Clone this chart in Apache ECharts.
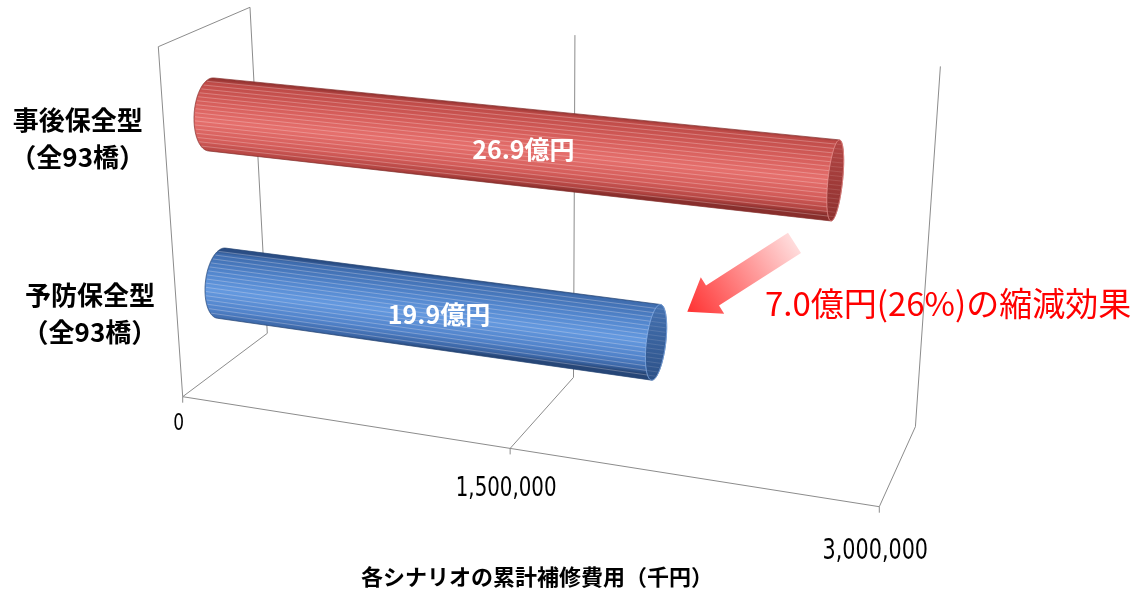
<!DOCTYPE html>
<html><head><meta charset="utf-8">
<script src="https://cdn.jsdelivr.net/npm/echarts@6/dist/echarts.min.js"></script>
<style>html,body{margin:0;padding:0;background:#fff}#c{width:1139px;height:589px}</style>
</head><body><div id="c"></div>
<script>
// ---------------- data ----------------
const categories = ['予防保全型\n（全93橋）', '事後保全型\n（全93橋）'];
const costValues = [1990000, 2690000];           // 千円
const tickValues = [0, 1500000, 3000000];
const tickLabels = ['0', '1,500,000', '3,000,000'];
const axisTitle = '各シナリオの累計補修費用（千円）';
const OKU = 100000;                               // 千円 per 億円

// ---------------- 3D perspective box (layout) ----------------
const P0 = [182.7, 396.7], PU = [879.3, 506.7], PV = [158.3, 46.7], PW = [267.3, 333.3];
const WU = 0.887, WV = 0.9379, WW = 1.0811;
function proj(u, v, w) {
  const d = 1 + u * (WU - 1) + v * (WV - 1) + w * (WW - 1);
  const x = P0[0] + u * (WU * PU[0] - P0[0]) + v * (WV * PV[0] - P0[0]) + w * (WW * PW[0] - P0[0]);
  const y = P0[1] + u * (WU * PU[1] - P0[1]) + v * (WV * PV[1] - P0[1]) + w * (WW * PW[1] - P0[1]);
  return [x / d, y / d];
}
function toU(cs, pt) { return (pt[0] - cs.x) / cs.width; }
function toV(cs, pt) { return (cs.y + cs.height - pt[1]) / cs.height; }

const GRID_COLOR = '#8c8c8c';
const BAR_RATIO = 0.408;   // diameter / band (vertical)
const RW = 0.19, WC = 0.5; // depth radius / centre

const BAR_STYLE = [
  { body: [[0,'#2a4d84'],[0.05,'#3e6cae'],[0.3,'#5286cd'],[0.55,'#6499df'],[0.8,'#5183ca'],[0.94,'#3b66a6'],[1,'#264677']],
    cap: ['#4471b0','#2d5289'], rim: 'rgba(140,180,235,0.8)', edge: '#244373' },
  { body: [[0,'#983533'],[0.05,'#bf4b48'],[0.3,'#d65e5b'],[0.55,'#e5706d'],[0.8,'#d35c59'],[0.94,'#b24441'],[1,'#882e2c']],
    cap: ['#b34644','#8e312f'], rim: 'rgba(235,150,148,0.8)', edge: '#85302e' }
];

function hull(pts) {
  const p = pts.slice().sort((a, b) => a[0] - b[0] || a[1] - b[1]);
  const cr = (o, a, b) => (a[0] - o[0]) * (b[1] - o[1]) - (a[1] - o[1]) * (b[0] - o[0]);
  const lo = [], up = [];
  for (const q of p) { while (lo.length >= 2 && cr(lo[lo.length - 2], lo[lo.length - 1], q) <= 0) lo.pop(); lo.push(q); }
  for (let i = p.length - 1; i >= 0; i--) { const q = p[i]; while (up.length >= 2 && cr(up[up.length - 2], up[up.length - 1], q) <= 0) up.pop(); up.push(q); }
  up.pop(); lo.pop();
  return lo.concat(up);
}
function clipLine(poly, a, b) {
  const d = [b[0] - a[0], b[1] - a[1]]; const ts = [];
  for (let i = 0; i < poly.length; i++) {
    const p = poly[i], q = poly[(i + 1) % poly.length]; const e = [q[0] - p[0], q[1] - p[1]];
    const den = d[0] * e[1] - d[1] * e[0]; if (Math.abs(den) < 1e-9) continue;
    const ap = [p[0] - a[0], p[1] - a[1]];
    const t = (ap[0] * e[1] - ap[1] * e[0]) / den; const s = (ap[0] * d[1] - ap[1] * d[0]) / den;
    if (s >= -1e-9 && s <= 1 + 1e-9) ts.push(t);
  }
  if (ts.length < 2) return null;
  const len = Math.hypot(d[0], d[1]);
  const t0 = Math.min(...ts) + 1.0 / len, t1 = Math.max(...ts) - 1.0 / len;
  if (t1 <= t0) return null;
  return [a[0] + t0 * d[0], a[1] + t0 * d[1], a[0] + t1 * d[0], a[1] + t1 * d[1]];
}
const lerp = (a, b, f) => [a[0] + (b[0] - a[0]) * f, a[1] + (b[1] - a[1]) * f];
const stops = arr => arr.map(s => ({ offset: s[0], color: s[1] }));

// ---------------- render functions ----------------
function renderFrame(params, api) {
  const line = (a, b) => ({ type: 'line', shape: { x1: a[0], y1: a[1], x2: b[0], y2: b[1] }, style: { stroke: GRID_COLOR, lineWidth: 1 } });
  return { type: 'group', silent: true, children: [
    line(proj(0, 1, 0), proj(0, 1, 1)),
    line(proj(0, 0, 0), proj(0, 1, 0)),
    line(proj(0, 0, 0), proj(1, 0, 0))
  ]};
}

function renderTick(params, api) {
  const cs = params.coordSys;
  const i = params.dataIndex;
  const u = toU(cs, api.coord([api.value(0), 0]));
  const line = (a, b) => ({ type: 'line', shape: { x1: a[0], y1: a[1], x2: b[0], y2: b[1] }, style: { stroke: GRID_COLOR, lineWidth: 1 } });
  const f = proj(u, 0, 0), bk = proj(u, 0, 1), tp = proj(u, 1, 1);
  const k = u * (2 - u);
  return { type: 'group', silent: true, children: [
    line(f, bk), line(bk, tp), line(f, [f[0], f[1] + 6]),
    { type: 'text', x: f[0] - 4, y: f[1] + 27 + 18 * k, scaleX: 0.74,
      style: { text: tickLabels[i], fontFamily: '"DejaVu Sans", sans-serif', fontSize: 23 + 5 * k,
               fill: '#000', align: 'center', verticalAlign: 'middle' } }
  ]};
}

function renderBar(params, api) {
  const cs = params.coordSys;
  const val = api.value(0), cat = api.value(1);
  const st = BAR_STYLE[cat];
  const p1 = api.coord([val, cat]), p0 = api.coord([0, cat]);
  const band = api.size([0, 1])[1];
  const u0 = toU(cs, p0), u1 = toU(cs, p1), vc = toV(cs, p1);
  const rv = BAR_RATIO * band / cs.height / 2;
  const N = 180, L = [], R = [];
  for (let j = 0; j < N; j++) {
    const th = j / N * Math.PI * 2;
    const v = vc + rv * Math.cos(th), w = WC + RW * Math.sin(th);
    L.push(proj(u0, v, w)); R.push(proj(u1, v, w));
  }
  const H = hull(L.concat(R));
  const edges = H.map((p, i) => { const q = H[(i + 1) % H.length]; return { a: p, b: q, len: Math.hypot(q[0] - p[0], q[1] - p[1]) }; })
                 .sort((x, y) => y.len - x.len).slice(0, 2)
                 .map(e => e.a[0] < e.b[0] ? [e.a, e.b] : [e.b, e.a])
                 .sort((x, y) => (x[0][1] + x[1][1]) - (y[0][1] + y[1][1]));
  const [T1, T2] = edges[0], [B1, B2] = edges[1];
  const tm = lerp(T1, T2, 0.5), bm = lerp(B1, B2, 0.5);
  const bodyFill = new echarts.graphic.LinearGradient(tm[0], tm[1], bm[0], bm[1], stops(st.body), true);
  const capTop = proj(u1, vc + rv, WC), capBot = proj(u1, vc - rv, WC);
  const capFill = new echarts.graphic.LinearGradient(capTop[0], capTop[1], capBot[0], capBot[1],
                    stops([[0, st.cap[0]], [1, st.cap[1]]]), true);
  const children = [
    { type: 'polygon', shape: { points: H }, style: { fill: bodyFill, stroke: st.edge, lineWidth: 0.7 } }
  ];
  const hgt = (Math.hypot(B1[0] - T1[0], B1[1] - T1[1]) + Math.hypot(B2[0] - T2[0], B2[1] - T2[1])) / 2;
  const ns = Math.round(hgt / 4.4);
  const capStripes = [];
  for (let k = 1; k < ns; k++) {
    const f = k / ns;
    const a = lerp(T1, B1, f), b = lerp(T2, B2, f);
    const seg = clipLine(H, a, b);
    if (seg) children.push({ type: 'line', shape: { x1: seg[0], y1: seg[1], x2: seg[2], y2: seg[3] },
                             style: { stroke: 'rgba(255,240,240,0.28)', lineWidth: 1 } });
    const cseg = clipLine(R, a, b);
    if (cseg) capStripes.push({ type: 'line', shape: { x1: cseg[0], y1: cseg[1], x2: cseg[2], y2: cseg[3] },
                             style: { stroke: 'rgba(255,240,240,0.13)', lineWidth: 1 } });
  }
  children.push({ type: 'polygon', shape: { points: R }, style: { fill: capFill, stroke: st.rim, lineWidth: 1 } });
  children.push(...capStripes);
  const cl = proj(u0, vc, WC), cr = proj(u1, vc, WC);
  const mid = lerp(cl, cr, 0.5);
  children.push({ type: 'text', x: mid[0], y: mid[1] + 2,
    style: { text: (val / OKU).toFixed(1) + '億円', fill: '#fff', fontSize: 25, fontWeight: 'bold',
             fontFamily: '"Noto Sans CJK JP", sans-serif', align: 'center', verticalAlign: 'middle' } });
  return { type: 'group', silent: true, children };
}

function renderCategory(params, api) {
  const cs = params.coordSys;
  const i = api.value(1);
  const vc = toV(cs, api.coord([0, i]));
  const a = proj(0, vc, 0);
  return { type: 'text', silent: true, x: a[0] - 22 - 65, y: a[1],
    style: { text: categories[i], fill: '#000', fontSize: 26, fontWeight: 'bold', lineHeight: 37,
             fontFamily: '"Noto Sans CJK JP", sans-serif', align: 'center', verticalAlign: 'middle' } };
}

// ---------------- chart ----------------
const diff = costValues[1] - costValues[0];
const annotation = (diff / OKU).toFixed(1) + '億円(' + Math.round(diff / costValues[1] * 100) + '%)の縮減効果';

const chart = echarts.init(document.getElementById('c'), null, { renderer: 'canvas', width: 1139, height: 589 });
chart.setOption({
  animation: false,
  backgroundColor: '#fff',
  grid: { left: 0, top: 0, width: 1139, height: 589 },
  xAxis: { type: 'value', min: 0, max: 3000000, interval: 1500000, show: false },
  yAxis: { type: 'category', data: categories, show: false },
  series: [
    { type: 'custom', renderItem: renderFrame, data: [[0, 0]], clip: false, z: 1 },
    { type: 'custom', renderItem: renderTick, data: tickValues.map(t => [t, 0]), encode: { x: 0, y: 1 }, clip: false, z: 1 },
    { type: 'custom', renderItem: renderBar, data: costValues.map((v, i) => [v, i]), encode: { x: 0, y: 1 }, clip: false, z: 2 },
    { type: 'custom', renderItem: renderCategory, data: categories.map((c, i) => [0, i]), encode: { x: 0, y: 1 }, clip: false, z: 3 }
  ],
  graphic: [
    { type: 'polygon', silent: true, z: 10,
      shape: { points: [[687.3, 311.7], [700.8, 277.3], [706.0, 285.4], [788.0, 232.7], [801.0, 252.9], [719.0, 305.6], [724.2, 313.7]] },
      style: { fill: { type: 'linear', x: 794.5, y: 242.8, x2: 687.3, y2: 311.7, global: true,
                       colorStops: [{ offset: 0, color: '#ffdcdc' }, { offset: 1, color: '#ff3232' }] } } },
    { type: 'text', silent: true, z: 10, x: 765, y: 303,
      style: { text: annotation, fill: '#ff0000', fontSize: 33, fontFamily: '"Noto Sans CJK JP", sans-serif',
               align: 'left', verticalAlign: 'middle' } },
    { type: 'text', silent: true, z: 10, x: 537, y: 577,
      style: { text: axisTitle, fill: '#000', fontSize: 22, fontWeight: 'bold', fontFamily: '"Noto Sans CJK JP", sans-serif',
               align: 'center', verticalAlign: 'middle' } }
  ]
});
</script>
</body></html>
